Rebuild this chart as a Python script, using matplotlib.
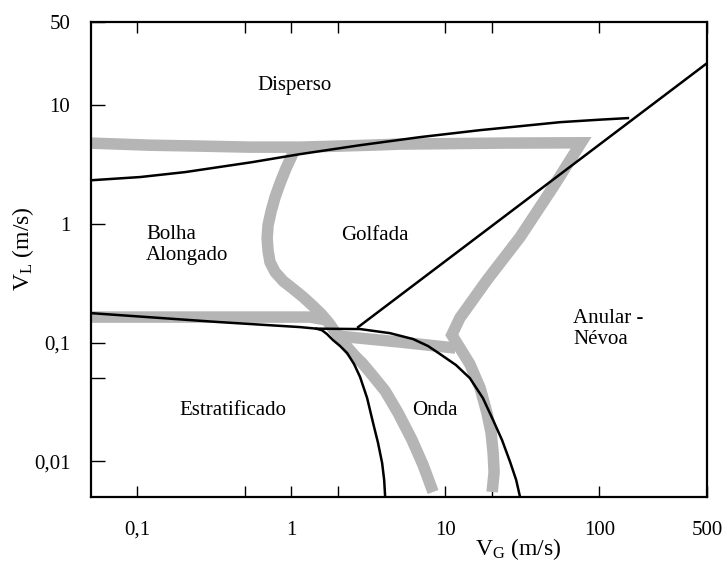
import matplotlib
matplotlib.use("Agg")
import matplotlib.pyplot as plt

plt.rcParams['font.family'] = ['Liberation Serif', 'DejaVu Serif']
plt.rcParams['mathtext.fontset'] = 'custom'
plt.rcParams['mathtext.rm'] = 'Liberation Serif'
plt.rcParams['mathtext.it'] = 'Liberation Serif:italic'

# ---- data (Mandhane-type flow pattern map) ----
# black boundaries
a_vg = [0.050, 0.104, 0.204, 0.555, 1.14, 2.79, 6.84, 16.8, 30.5, 55.5, 101, 153]
a_vl = [2.33, 2.48, 2.73, 3.31, 3.87, 4.60, 5.38, 6.16, 6.65, 7.19, 7.55, 7.78]

b_vg = [2.71, 500]
b_vl = [0.135, 22.6]

c_vg = [0.050, 0.334, 1.14, 1.45, 1.58, 1.70, 1.86, 2.07, 2.30, 2.55, 2.79, 3.10,
        3.39, 3.65, 3.88, 4.00, 4.06]
c_vl = [0.177, 0.149, 0.135, 0.131, 0.127, 0.118, 0.105, 0.0935, 0.0816, 0.0659,
        0.0513, 0.0341, 0.0210, 0.01426, 0.00966, 0.00695, 0.0050]

d_vg = [1.45, 2.79, 4.37, 6.17, 7.71, 9.23, 11.7, 14.4, 17.5, 20.4, 23.3,
        26.3, 28.8, 30.5]
d_vl = [0.131, 0.130, 0.120, 0.107, 0.0935, 0.080, 0.0647, 0.0502, 0.0341,
        0.0222, 0.0151, 0.00986, 0.00695, 0.0050]

# gray transition bands
g1_vg = [0.050, 0.121, 0.255, 0.538, 1.14, 3.24, 5.07, 22.6, 76.0,
         50.0, 30.5, 18.6, 12.4, 11.0, 14.4, 16.8, 18.6, 19.8, 20.4, 20.7, 20.1]
g1_vl = [4.79, 4.60, 4.52, 4.43, 4.43, 4.60, 4.70, 4.79, 4.82,
         2.04, 0.773, 0.336, 0.161, 0.116, 0.0659, 0.0414, 0.0255, 0.0173,
         0.01175, 0.00812, 0.00551]

g2_vg = [1.07, 1.01, 0.923, 0.843, 0.783, 0.738, 0.705, 0.695, 0.705, 0.726,
         0.783, 0.883, 1.03, 1.19, 1.38, 1.56, 1.73, 1.89, 2.10, 2.33, 2.59,
         2.88, 3.39, 4.06, 4.93, 6.07, 7.16, 8.31]
g2_vl = [4.43, 3.79, 2.95, 2.20, 1.68, 1.28, 0.977, 0.759, 0.590, 0.476,
         0.393, 0.330, 0.282, 0.242, 0.203, 0.174, 0.149, 0.127, 0.107, 0.0899,
         0.0769, 0.0672, 0.0522, 0.0391, 0.0255, 0.0151, 0.00929, 0.00551]

g3_vg = [0.050, 1.32, 1.68]
g3_vl = [0.164, 0.164, 0.155]

g4_vg = [2.01, 5.07, 11.6]
g4_vl = [0.1135, 0.101, 0.0899]

# region labels
reg_text = ['Disperso', 'Bolha\nAlongado', 'Golfada', 'Estratificado', 'Onda', 'Anular -\nNévoa']
reg_vg = [1.05, 0.114, 3.49, 0.418, 8.57, 67.5]
reg_vl = [14.7, 0.668, 0.804, 0.0270, 0.0270, 0.131]
reg_ha = ['center', 'left', 'center', 'center', 'center', 'left']

# ticks
xticks = [0.1, 0.5, 1, 2, 10, 20, 100, 500]
xticklabels = ['0,1', '', '1', '', '10', '', '100', '500']
yticks = [0.01, 0.05, 0.1, 1, 10, 50]
yticklabels = ['0,01', '', '0,1', '1', '10', '50']

# ---- figure ----
fig = plt.figure(figsize=(7.23, 5.69), dpi=100)
ax = fig.add_axes([0.126, 0.1265, 0.852, 0.8345])
ax.set_xscale('log')
ax.set_yscale('log')

gray = '#b5b5b5'
for xs, ys in [(g1_vg, g1_vl), (g2_vg, g2_vl), (g3_vg, g3_vl), (g4_vg, g4_vl)]:
    ax.plot(xs, ys, color=gray, lw=8.3, solid_joinstyle='miter',
            solid_capstyle='butt', zorder=2)

for xs, ys in [(a_vg, a_vl), (b_vg, b_vl), (c_vg, c_vl), (d_vg, d_vl)]:
    ax.plot(xs, ys, color='black', lw=1.8, solid_joinstyle='round', zorder=3)

for t, x, y, ha in zip(reg_text, reg_vg, reg_vl, reg_ha):
    ax.text(x, y, t, ha=ha, va='center', fontsize=15, zorder=4,
            linespacing=1.15)

ax.set_xlim(0.05, 500)
ax.set_ylim(0.005, 50)

ax.set_xticks(xticks)
ax.set_xticklabels(xticklabels)
ax.set_yticks(yticks)
ax.set_yticklabels(yticklabels)
ax.minorticks_off()
ax.tick_params(axis='x', which='major', direction='in', length=8, width=1,
               top=True, bottom=True, labelsize=15, pad=17)
ax.tick_params(axis='y', which='major', direction='in', length=10, width=1,
               left=True, right=False, labelsize=15, pad=15)
for s in ax.spines.values():
    s.set_linewidth(1.6)

ax.set_xlabel(r'V$_\mathregular{G}$ (m/s)', fontsize=17)
ax.xaxis.set_label_coords(0.693, -0.082)
ax.set_ylabel(r'V$_\mathregular{L}$ (m/s)', fontsize=17)
ax.yaxis.set_label_coords(-0.09, 0.524)

fig.savefig('out.png', dpi=100)
